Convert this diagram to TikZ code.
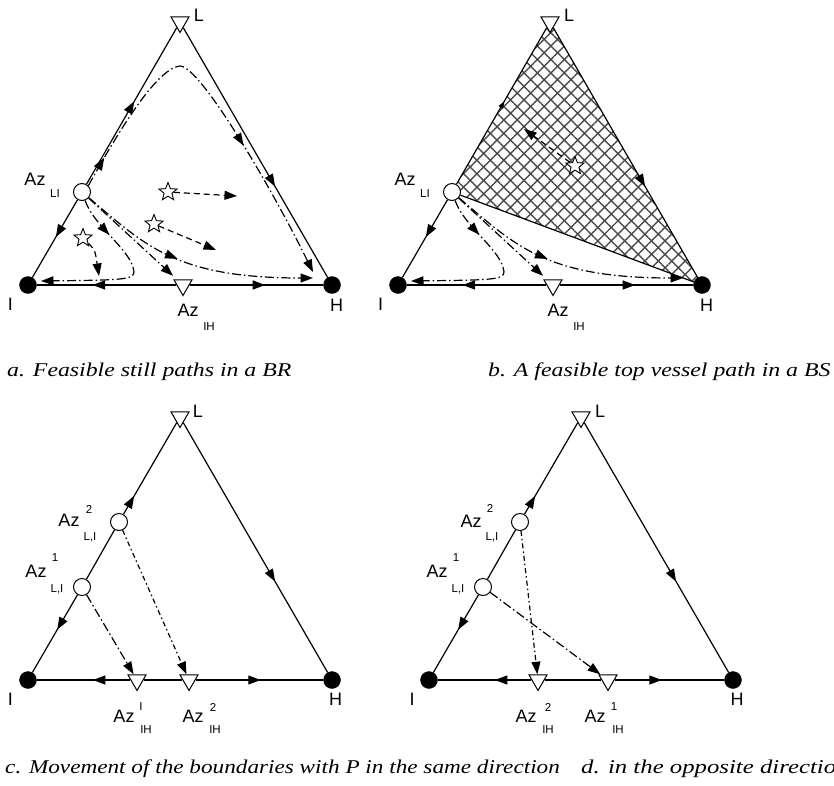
\documentclass[tikz,border=0pt]{standalone}
\usepackage{fontspec}
\usepackage{graphicx}
\setmainfont{Liberation Sans}
\newfontfamily\capfont{Liberation Serif}
\usetikzlibrary{arrows.meta,shapes.geometric,patterns.meta,decorations.markings}
\pgfdeclarelayer{bg}
\pgfsetlayers{bg,main}
\tikzset{
  vdot/.style={circle, fill=black, draw=black, minimum size=17pt, inner sep=0pt},
  vtri/.style={regular polygon, regular polygon sides=3, shape border rotate=180, minimum size=21pt, inner sep=0pt, draw, fill=white, line width=1pt},
  azc/.style={circle, draw, fill=white, minimum size=17pt, inner sep=0pt, line width=1pt},
  starn/.style={star, star points=5, star point ratio=2.3, minimum size=19pt, inner sep=0pt, draw, fill=white, line width=0.9pt},
  lab/.style={font=\fontsize{18}{20}\selectfont, inner sep=0pt},
  sml/.style={font=\fontsize{11.5}{13}\selectfont, inner sep=0pt},
  captext/.style={font=\capfont\itshape\fontsize{19.5}{22}\selectfont, inner sep=0pt, anchor=base west},
  edgeline/.style={line width=1.2pt},
  dd/.style={line width=1.2pt, dash pattern=on 9pt off 3pt on 1.5pt off 3pt},
  ds/.style={line width=1.2pt, dash pattern=on 5pt off 3pt on 1.5pt off 3pt},
  dsh/.style={line width=1.2pt, dash pattern=on 6pt off 4pt},
  arrtip/.style={-{Triangle[length=12.5pt,width=9pt]}},
  midarrow/.style={postaction={decorate}, decoration={markings, mark=at position #1 with {\arrow{Triangle[length=12.5pt,width=9pt]}}}},
  smallarrow/.style={postaction={decorate}, decoration={markings, mark=at position #1 with {\arrow{Triangle[length=7pt,width=5pt]}}}},
  midarrowtwo/.style 2 args={postaction={decorate}, decoration={markings,
     mark=at position #1 with {\arrow{Triangle[length=12.5pt,width=9pt]}},
     mark=at position #2 with {\arrow{Triangle[length=12.5pt,width=9pt]}}}},
  hatchfill/.style={pattern={Hatch[angle=45,distance=9.5pt,line width=1.4pt]}, pattern color=black!70},
}
\newcommand\panelAB[2]{%
  \node[vdot] (#1I) at (28,285) {};
  \node[vdot] (#1H) at (332,285) {};
  \node[vtri] (#1L) at (180,22) {};
  \node[azc] (#1Az) at (82,192) {};
  \node[vtri] (#1AzIH) at (183,285) {};
  \node[lab] (#1Llab) at (199,15) {L};
  \node[lab] (#1Ilab) at (10.5,304.5) {I};
  \node[lab] (#1Hlab) at (336.5,305) {H};
  \node[lab] (#1Azlab) at (35,179) {Az};
  \node[sml] (#1Azsub) at (55,194) {LI};
  \node[lab] (#1AzIHlab) at (188,310.5) {Az};
  \node[sml] (#1AzIHsub) at (209,326.5) {IH};
  \draw[edgeline, #2] (#1Az) -- (#1L);
  \draw[edgeline, midarrow=0.48] (#1Az) -- (#1I);
  \draw[edgeline, midarrow=0.636] (#1L) -- (#1H);
  \draw[edgeline, midarrow=0.6] (#1AzIH) -- (#1I);
  \draw[edgeline, midarrow=0.565] (#1AzIH) -- (#1H);
  \coordinate (#1Aend) at (41,281);
  \draw[dd, arrtip, midarrow=0.23] (#1Az) .. controls (95,228) and (132,250) .. (134,272)
     .. controls (134,280) and (120,280) .. (#1Aend);
  \draw[dd, arrtip, shorten >=5pt] (#1Az) -- (#1AzIH);
  \coordinate (#1Cend) at (313,278);
  \draw[dd, arrtip, midarrow=0.44] (#1Az) .. controls (145,245) and (175,278) .. (#1Cend);
}
\begin{document}
\begin{tikzpicture}[x=1pt,y=-1pt]
\useasboundingbox (0,0) rectangle (834,785);

% ---------- panel a ----------
\panelAB{a}{midarrow=0.53}
\coordinate (aBend) at (313,272);
\draw[dd, arrtip, midarrowtwo={0.08}{0.64}] (aAz.45) .. controls (128,114) and (160,68) .. (180,66)
   .. controls (200,66) and (270,185) .. (aBend);
\node[starn] (as1) at (168,192) {};
\node[starn] (as2) at (154,224) {};
\node[starn] (as3) at (83,238) {};
\coordinate (as1e) at (237,196);
\coordinate (as2e) at (216,250);
\coordinate (as3e) at (99,276);
\draw[dsh, arrtip] (as1) -- (as1e);
\draw[dsh, arrtip] (as2) -- (as2e);
\draw[dsh, arrtip] (as3) .. controls (95,250) .. (as3e);

% ---------- panel b ----------
\begin{scope}[shift={(370,0)}]
\panelAB{b}{smallarrow=0.53}
\begin{pgfonlayer}{bg}
\fill[hatchfill] (bL.center) -- (bAz.center) -- (bH.center) -- cycle;
\end{pgfonlayer}
\draw[edgeline] (bAz) -- (bH);
\node[starn] (bs1) at (205,166) {};
\coordinate (bs1e) at (154,129);
\draw[dsh, arrtip] (bs1) -- (bs1e);
\end{scope}

% ---------- panel c ----------
\begin{scope}[shift={(0,395)}]
\node[vdot] (cI) at (28,285) {};
\node[vdot] (cH) at (332,285) {};
\node[vtri] (cL) at (180,22) {};
\node[azc] (cAa) at (82,192) {};
\node[azc] (cAb) at (119,127) {};
\node[vtri] (cBa) at (137,285) {};
\node[vtri] (cBb) at (189,285) {};
\node[lab] (cLlab) at (198,16) {L};
\node[lab] (cIlab) at (10.5,304.5) {I};
\node[lab] (cHlab) at (335.5,304.5) {H};
\node[lab] (cAblab) at (69,125) {Az};
\node[sml] (cAbsup) at (89,114) {2};
\node[sml] (cAbsub) at (90,142) {L,I};
\node[lab] (cAalab) at (36,176) {Az};
\node[sml] (cAasup) at (55,163) {1};
\node[sml] (cAasub) at (57,194) {L,I};
\node[lab] (cBalab) at (124,321) {Az};
\node[sml] (cBasup) at (141,312) {I};
\node[sml] (cBasub) at (146,335) {IH};
\node[lab] (cBblab) at (193,321) {Az};
\node[sml] (cBbsup) at (213,312) {2};
\node[sml] (cBbsub) at (215,335) {IH};
\draw[edgeline, midarrow=0.2] (cAb) -- (cL);
\draw[edgeline] (cAb) -- (cAa);
\draw[edgeline, midarrow=0.45] (cAa) -- (cI);
\draw[edgeline, midarrow=0.636] (cL) -- (cH);
\draw[edgeline, midarrow=0.4] (cBa) -- (cI);
\draw[edgeline] (cBa) -- (cBb);
\draw[edgeline, midarrow=0.51] (cBb) -- (cH);
\draw[dd, arrtip] (cAa) -- (cBa);
\draw[ds, arrtip] (cAb) -- (cBb);
\end{scope}

% ---------- panel d ----------
\begin{scope}[shift={(401,395)}]
\node[vdot] (dI) at (28,285) {};
\node[vdot] (dH) at (332,285) {};
\node[vtri] (dL) at (180,22) {};
\node[azc] (dAa) at (82,192) {};
\node[azc] (dAb) at (119,127) {};
\node[vtri] (dBa) at (207,285) {};
\node[vtri] (dBb) at (137,285) {};
\node[lab] (dLlab) at (199,16) {L};
\node[lab] (dIlab) at (11,304.5) {I};
\node[lab] (dHlab) at (336,304.5) {H};
\node[lab] (dAblab) at (70,126) {Az};
\node[sml] (dAbsup) at (89,113) {2};
\node[sml] (dAbsub) at (91,142) {L,I};
\node[lab] (dAalab) at (36,176) {Az};
\node[sml] (dAasup) at (55,163) {1};
\node[sml] (dAasub) at (57,194) {L,I};
\node[lab] (dBblab) at (125,321) {Az};
\node[sml] (dBbsup) at (147,312) {2};
\node[sml] (dBbsub) at (147,335) {IH};
\node[lab] (dBalab) at (194,321) {Az};
\node[sml] (dBasup) at (213,312) {1};
\node[sml] (dBasub) at (217,335) {IH};
\draw[edgeline, midarrow=0.2] (dAb) -- (dL);
\draw[edgeline] (dAb) -- (dAa);
\draw[edgeline, midarrow=0.45] (dAa) -- (dI);
\draw[edgeline, midarrow=0.636] (dL) -- (dH);
\draw[edgeline, midarrow=0.39] (dBb) -- (dI);
\draw[edgeline] (dBb) -- (dBa);
\draw[edgeline, midarrow=0.43] (dBa) -- (dH);
\draw[dd, arrtip] (dAa) -- (dBa);
\draw[ds, arrtip] (dAb) -- (dBb);
\end{scope}

% ---------- captions ----------
\node[captext] (capa) at (7,376) {\scalebox{1.22}[1]{a. Feasible still paths in a BR}};
\node[captext] (capb) at (488,376) {\scalebox{1.22}[1]{b. A feasible top vessel path in a BS}};
\node[captext] (capc) at (5,773) {\scalebox{1.19}[1]{c. Movement of the boundaries with P in the same direction}};
\node[captext] (capd) at (581,773) {\scalebox{1.27}[1]{d. in the opposite direction}};
\end{tikzpicture}
\end{document}
